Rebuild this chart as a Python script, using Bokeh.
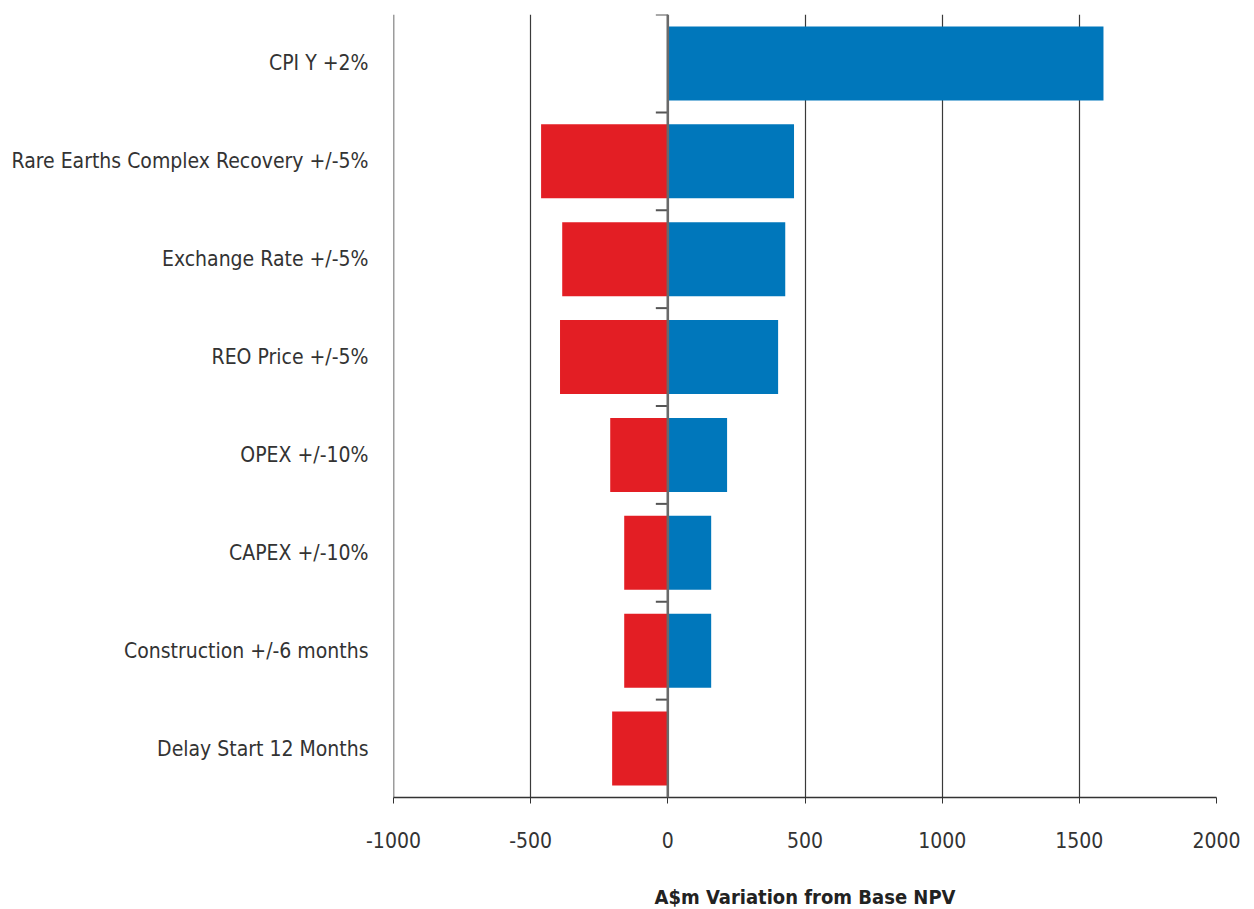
from bokeh.plotting import figure
from bokeh.models import Range1d, FixedTicker, Span, ColumnDataSource
from bokeh.embed import file_html
from bokeh.resources import INLINE

categories = ["CPI Y +2%", "Rare Earths Complex Recovery +/-5%", "Exchange Rate +/-5%",
              "REO Price +/-5%", "OPEX +/-10%", "CAPEX +/-10%",
              "Construction +/-6 months", "Delay Start 12 Months"]
downside = [0, -462, -385, -393, -210, -159, -159, -203]
upside = [1588, 460, 428, 402, 216, 158, 158, 0]
x_ticks = [-1000, -500, 0, 500, 1000, 1500, 2000]
x_tick_labels = ["-1000", "-500", "0", "500", "1000", "1500", "2000"]

FONT = "'DejaVu Sans Condensed', 'Liberation Sans', sans-serif"
n = len(categories)
ycent = [n - i - 0.5 for i in range(n)]

p = figure(frame_width=823, frame_height=783, output_backend="svg", toolbar_location=None,
           x_range=Range1d(-1000, 2000), y_range=Range1d(0, n),
           min_border_left=393, min_border_right=38, min_border_top=14, min_border_bottom=100)
p.outline_line_color = None
p.background_fill_color = "white"

src = ColumnDataSource(dict(y=ycent, lo=downside, hi=upside))
p.hbar(y="y", left="lo", right=0, height=0.755, source=src, color="#E31E24", line_color=None)
p.hbar(y="y", left=0, right="hi", height=0.755, source=src, color="#0077BB", line_color=None)

# grid
p.xgrid.ticker = FixedTicker(ticks=x_ticks)
p.xgrid.grid_line_color = "#3a3a3a"
p.xgrid.grid_line_width = 1.2
p.ygrid.grid_line_color = None
p.add_layout(Span(location=x_ticks[0], dimension="height", line_color="#3a3a3a", line_width=1.5))

# zero line and category ticks
p.add_layout(Span(location=0, dimension="height", line_color="#6a6a6a", line_width=2.5))
tick_len = 12 * 3000 / 823.0
bnd = list(range(1, n + 1))
p.segment(x0=[-tick_len] * n, x1=[0] * n, y0=bnd, y1=bnd, line_color="#555555", line_width=2)

# x axis
xa = p.xaxis[0]
xa.ticker = FixedTicker(ticks=x_ticks)
xa.major_label_overrides = {t: s for t, s in zip(x_ticks, x_tick_labels)}
xa.axis_line_color = "#333333"
xa.axis_line_width = 1.5
xa.major_tick_line_color = "#333333"
xa.major_tick_out = 6
xa.major_tick_in = 0
xa.minor_tick_line_color = None
xa.major_label_text_font = FONT
xa.major_label_text_font_size = "21px"
xa.major_label_text_color = "#333333"
xa.major_label_standoff = 28
xa.axis_label = "A$m Variation from Base NPV"
xa.axis_label_text_font = FONT
xa.axis_label_text_font_style = "bold"
xa.axis_label_text_font_size = "20px"
xa.axis_label_text_color = "#222222"
xa.axis_label_standoff = 34

# y axis
ya = p.yaxis[0]
ya.ticker = FixedTicker(ticks=ycent)
ya.major_label_overrides = {y: c for y, c in zip(ycent, categories)}
ya.axis_line_color = None
ya.major_tick_line_color = None
ya.major_tick_out = 0
ya.major_tick_in = 0
ya.minor_tick_line_color = None
ya.major_label_text_font = FONT
ya.major_label_text_font_size = "21px"
ya.major_label_text_color = "#333333"
ya.major_label_standoff = 25

open("out.html", "w").write(file_html(p, INLINE))
